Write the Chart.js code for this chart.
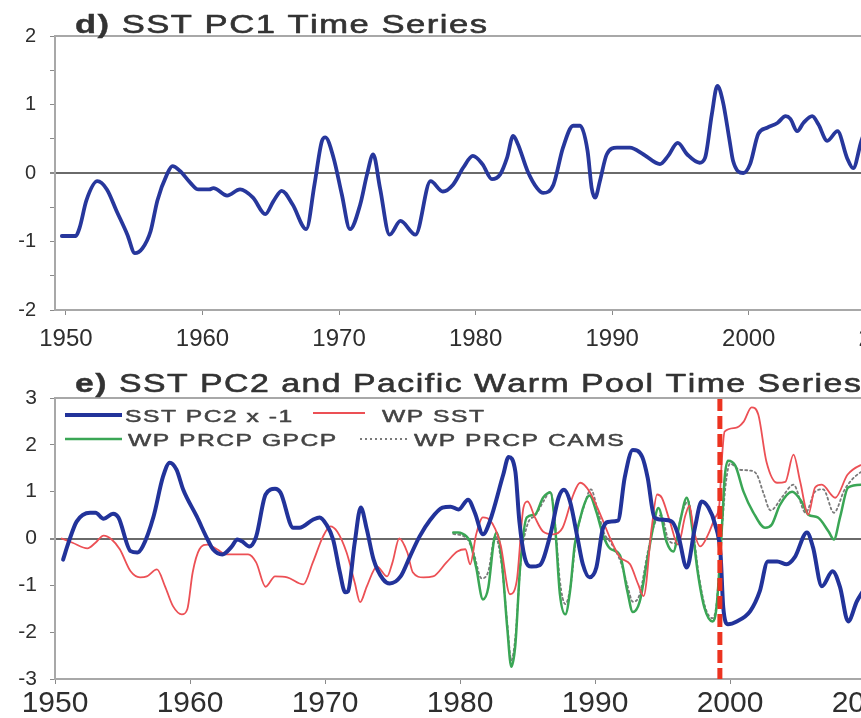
<!DOCTYPE html>
<html>
<head>
<meta charset="utf-8">
<script src="https://cdn.jsdelivr.net/npm/chart.js@4.4.1/dist/chart.umd.min.js"></script>
<style>
  html, body { margin: 0; padding: 0; background: #fff; overflow: hidden; width: 861px; height: 718px; }
  canvas { position: absolute; left: 0; }
  #pc1 { top: 0; }
  #pc2 { top: 360px; }
</style>
</head>
<body>
<canvas id="pc1" width="1000" height="360"></canvas>
<canvas id="pc2" width="1000" height="358"></canvas>
<script>
// ---- data ----
const xTickYears = [1950, 1960, 1970, 1980, 1990, 2000, 2010];
const pc1YTicks = [-2, -1.5, -1, -0.5, 0, 0.5, 1, 1.5, 2];
const pc2YTicks = [-3, -2, -1, 0, 1, 2, 3];
const breakYear = 1999.25;

// d) SST PC1
const pc1Years = [1949.7, 1950.7, 1951.0, 1951.5, 1952.3, 1953.0, 1953.7, 1954.5, 1955.05, 1955.6,
  1956.2, 1956.7, 1957.4, 1957.8, 1958.35, 1959.1, 1959.7, 1960.5, 1960.8, 1961.8,
  1962.75, 1963.7, 1964.6, 1965.2, 1965.8, 1966.6, 1967.6, 1968.2, 1968.75, 1969.0,
  1969.6, 1970.2, 1970.8, 1971.55, 1972.05, 1972.5, 1973.0, 1973.7, 1974.5, 1975.6,
  1976.7, 1977.6, 1978.35, 1979.1, 1979.8, 1980.5, 1981.2, 1981.8, 1982.3, 1982.75,
  1983.1, 1983.8, 1984.5, 1984.95, 1985.7, 1986.4, 1987.15, 1987.65, 1988.2, 1988.5,
  1988.75, 1989.1, 1989.6, 1990.35, 1991.3, 1992.3, 1993.5, 1994.1, 1994.8, 1995.5,
  1996.4, 1996.8, 1997.3, 1997.7, 1998.1, 1998.6, 1998.85, 1999.6, 2000.1, 2000.7,
  2001.35, 2002.1, 2002.7, 2003.05, 2003.55, 2004.0, 2004.65, 2005.1, 2005.75, 2006.5,
  2007.2, 2007.65, 2008.25, 2008.8];
const pc1Values = [-0.92, -0.92, -0.80, -0.40, -0.12, -0.24, -0.55, -0.90, -1.17, -1.10,
  -0.85, -0.40, -0.02, 0.10, 0.03, -0.14, -0.24, -0.24, -0.22, -0.33,
  -0.24, -0.36, -0.60, -0.41, -0.26, -0.46, -0.82, -0.17, 0.47, 0.52,
  0.22, -0.31, -0.82, -0.46, -0.02, 0.27, -0.22, -0.90, -0.70, -0.90,
  -0.12, -0.27, -0.17, 0.08, 0.25, 0.13, -0.09, -0.02, 0.22, 0.54,
  0.42, 0.03, -0.22, -0.29, -0.17, 0.37, 0.69, 0.69, 0.32, -0.22,
  -0.36, -0.12, 0.27, 0.37, 0.37, 0.27, 0.13, 0.25, 0.44, 0.27,
  0.15, 0.22, 0.86, 1.27, 1.05, 0.47, 0.18, 0.00, 0.13, 0.57,
  0.66, 0.73, 0.83, 0.79, 0.61, 0.73, 0.83, 0.71, 0.47, 0.61,
  0.22, 0.07, 0.47, 0.75];

// e) SST PC2 x -1
const pc2Years = [1950.6, 1951.0, 1951.6, 1952.6, 1953.0, 1953.6, 1954.3, 1954.7, 1955.6, 1956.1,
  1956.5, 1957.3, 1958.0, 1958.5, 1959.0, 1959.5, 1960.5, 1961.3, 1961.7, 1962.4,
  1963.1, 1963.5, 1963.85, 1964.4, 1964.9, 1965.6, 1966.3, 1966.7, 1967.65, 1968.1,
  1969.1, 1969.6, 1970.1, 1970.6, 1971.1, 1971.5, 1971.7, 1972.2, 1972.65, 1973.1,
  1973.6, 1974.3, 1974.8, 1975.6, 1976.3, 1977.0, 1977.8, 1978.7, 1979.3, 1979.9,
  1980.6, 1981.1, 1981.7, 1982.2, 1983.2, 1983.6, 1984.1, 1984.4, 1984.8, 1985.3,
  1985.9, 1986.7, 1987.3, 1987.7, 1988.15, 1988.7, 1989.1, 1989.6, 1990.1, 1990.6,
  1991.1, 1991.7, 1992.2, 1992.8, 1993.5, 1993.9, 1994.4, 1995.0, 1995.7, 1996.15,
  1996.8, 1997.4, 1997.9, 1998.4, 1998.9, 1999.3, 1999.5, 1999.85, 2000.5, 2001.5,
  2002.2, 2002.8, 2003.5, 2004.2, 2004.8, 2005.7, 2006.15, 2006.8, 2007.6, 2008.15,
  2008.75, 2009.4, 2009.9];
const pc2Values = [-0.45, -0.09, 0.36, 0.55, 0.55, 0.42, 0.53, 0.45, -0.27, -0.30,
  -0.17, 0.47, 1.32, 1.62, 1.47, 1.04, 0.47, -0.02, -0.23, -0.34,
  -0.17, -0.02, -0.06, -0.17, 0.04, 0.94, 1.06, 0.98, 0.23, 0.23,
  0.40, 0.45, 0.30, -0.02, -0.72, -1.15, -1.13, -0.09, 0.66, 0.19,
  -0.45, -0.87, -0.96, -0.81, -0.38, 0.04, 0.40, 0.66, 0.68, 0.62,
  0.83, 0.55, 0.09, 0.36, 1.36, 1.74, 1.43, 0.36, -0.41, -0.60,
  -0.57, 0.09, 0.87, 1.04, 0.79, 0.02, -0.55, -0.83, -0.62, 0.23,
  0.36, 0.38, 1.30, 1.89, 1.74, 1.30, 0.45, 0.40, 0.36, 0.09,
  -0.62, 0.23, 0.79, 0.66, 0.30, -0.34, -1.47, -1.83, -1.77, -1.55,
  -1.13, -0.49, -0.49, -0.55, -0.40, 0.13, -0.19, -1.02, -0.70, -1.04,
  -1.77, -1.34, -1.10];

// WP SST
const wpSstYears = [1950.5, 1951.3, 1952.4, 1953.0, 1953.6, 1954.2, 1954.8, 1955.6, 1956.3, 1956.8,
  1957.55, 1958.15, 1958.75, 1959.4, 1959.8, 1960.2, 1960.7, 1961.3, 1962.0, 1962.7,
  1963.5, 1964.3, 1964.9, 1965.6, 1966.3, 1967.2, 1968.4, 1969.1, 1969.85, 1970.4,
  1970.9, 1971.6, 1972.2, 1972.6, 1973.1, 1973.85, 1974.6, 1975.0, 1975.5, 1976.1,
  1976.5, 1977.3, 1978.0, 1979.0, 1979.8, 1980.4, 1980.75, 1981.2, 1981.7, 1982.2,
  1983.0, 1983.7, 1984.2, 1984.7, 1985.0, 1985.55, 1986.15, 1986.9, 1987.6, 1988.4,
  1988.9, 1989.6, 1990.4, 1991.1, 1991.85, 1992.6, 1993.2, 1993.6, 1994.2, 1994.6,
  1994.95, 1995.55, 1996.15, 1996.7, 1997.0, 1997.3, 1997.8, 1998.4, 1998.9, 1999.2,
  1999.4, 1999.6, 2000.4, 2001.0, 2001.6, 2002.1, 2002.7, 2003.5, 2004.1, 2004.7,
  2005.2, 2005.8, 2006.3, 2006.8, 2007.8, 2008.7, 2009.7, 2010.2];
const wpSstValues = [0.00, -0.09, -0.21, -0.09, 0.06, -0.02, -0.23, -0.70, -0.83, -0.81,
  -0.66, -1.02, -1.45, -1.62, -1.51, -0.72, -0.23, -0.13, -0.23, -0.34,
  -0.34, -0.34, -0.51, -1.03, -0.81, -0.83, -0.98, -0.51, 0.04, 0.26,
  0.15, -0.30, -0.94, -1.36, -1.02, -0.60, -0.81, -0.51, 0.00, -0.30,
  -0.72, -0.83, -0.81, -0.51, -0.28, -0.23, -0.55, 0.09, 0.45, 0.40,
  -0.13, -1.19, -0.91, 0.66, 0.79, 0.45, 0.15, 0.09, 0.23, 0.94,
  1.19, 1.00, 0.51, 0.02, -0.40, -0.55, -0.98, -1.23, 0.23, 0.94,
  0.87, 0.36, -0.13, 0.50, 0.70, 0.20, -0.17, 0.10, 0.45, 0.70,
  1.70, 2.28, 2.36, 2.49, 2.80, 2.64, 1.64, 1.19, 1.21, 1.79,
  1.21, 0.51, 1.09, 1.15, 0.87, 1.36, 1.57, 1.60];

// WP PRCP GPCP
const gpcpYears = [1979.5, 1979.85, 1980.5, 1980.75, 1981.2, 1981.7, 1982.1, 1982.5, 1982.7, 1983.1,
  1983.5, 1983.8, 1984.1, 1984.45, 1984.95, 1985.55, 1986.15, 1986.7, 1987.05, 1987.4,
  1987.8, 1988.15, 1988.5, 1989.1, 1989.6, 1990.1, 1990.6, 1991.1, 1991.85, 1992.4,
  1992.8, 1993.3, 1993.85, 1994.3, 1994.7, 1995.3, 1995.8, 1996.3, 1996.8, 1997.2,
  1997.6, 1998.1, 1998.7, 1999.0, 1999.4, 1999.6, 1999.85, 2000.4, 2001.0, 2001.7,
  2002.6, 2003.1, 2003.7, 2004.6, 2005.3, 2005.8, 2006.5, 2007.3, 2007.7, 2008.15,
  2008.75, 2009.7, 2010.2];
const gpcpValues = [0.13, 0.13, 0.04, -0.07, -0.62, -1.30, -1.04, -0.07, 0.13, -0.49,
  -1.91, -2.74, -2.27, -0.62, 0.45, 0.51, 0.87, 0.98, 0.23, -1.19,
  -1.62, -1.13, -0.13, 0.64, 0.92, 0.57, 0.07, -0.21, -0.36, -1.13,
  -1.57, -1.36, -0.49, 0.23, 0.65, -0.07, -0.28, 0.36, 0.87, 0.23,
  -0.70, -1.47, -1.77, -1.47, 0.23, 1.28, 1.66, 1.55, 1.00, 0.57,
  0.23, 0.30, 0.72, 1.00, 0.79, 0.51, 0.45, 0.15, -0.02, 0.45,
  1.09, 1.15, 1.10];

// WP PRCP CAMS
const camsYears = [1979.5, 1980.5, 1981.0, 1981.6, 1982.1, 1982.6, 1983.1, 1983.5, 1983.8, 1984.1,
  1984.5, 1985.0, 1985.6, 1986.2, 1986.7, 1987.05, 1987.4, 1987.8, 1988.2, 1988.6,
  1989.2, 1989.7, 1990.2, 1990.7, 1991.2, 1991.9, 1992.4, 1992.8, 1993.3, 1993.9,
  1994.4, 1994.9, 1995.4, 1995.9, 1996.4, 1996.9, 1997.3, 1997.7, 1998.2, 1998.7,
  1999.0, 1999.4, 1999.7, 2000.0, 2000.7, 2001.5, 2002.0, 2002.5, 2003.0, 2003.9,
  2004.7, 2005.6, 2006.3, 2006.9, 2007.7, 2008.5, 2009.6, 2010.2];
const camsValues = [0.10, 0.00, -0.30, -0.85, -0.70, 0.05, -0.60, -1.80, -2.60, -2.10,
  -0.50, 0.30, 0.50, 0.80, 1.00, 0.30, -0.90, -1.40, -1.00, 0.00,
  0.70, 1.05, 0.60, 0.10, -0.10, -0.50, -1.00, -1.35, -1.20, -0.30,
  0.30, 0.50, 0.00, -0.10, 0.50, 0.80, 0.10, -0.80, -1.50, -1.70,
  -1.40, 0.20, 1.20, 1.60, 1.47, 1.45, 1.36, 0.95, 0.60, 0.90,
  1.15, 0.55, 1.00, 1.05, 0.55, 1.05, 1.40, 1.45];

// ---- helpers ----
const FONT = "'Liberation Sans', Arial, sans-serif";
const toPoints = (xs, ys) => xs.map((x, i) => ({ x: x, y: ys[i] }));

// text in the figure is wide, heavy and a little letter-spaced
function drawWide(ctx, text, x, y, font, sx, spacing, color, weight) {
  ctx.save();
  ctx.font = font;
  ctx.fillStyle = color;
  ctx.strokeStyle = color;
  ctx.lineWidth = weight || 0;
  ctx.lineJoin = 'round';
  ctx.textBaseline = 'alphabetic';
  ctx.textAlign = 'left';
  ctx.translate(x, y);
  ctx.scale(sx, 1);
  let cx = 0;
  for (const ch of text) {
    ctx.fillText(ch, cx, 0);
    if (weight) ctx.strokeText(ch, cx, 0);
    cx += ctx.measureText(ch).width + spacing / sx;
  }
  ctx.restore();
  return x + cx * sx;
}

function xAxis(min, max, fontSize, pad, height) {
  return {
    type: 'linear',
    min: min,
    max: max,
    afterBuildTicks: (a) => { a.ticks = xTickYears.map(v => ({ value: v })); },
    ticks: {
      callback: (v) => String(v),
      font: { family: FONT, size: fontSize },
      color: '#2e2e2e',
      padding: pad,
      autoSkip: false,
      maxRotation: 0
    },
    grid: { drawOnChartArea: false, tickLength: 5, tickColor: '#8a8a8a' },
    border: { color: '#a8a8a8', width: 2 },
    afterFit: (a) => { a.height = height; }
  };
}

function yAxis(min, max, tickVals, fontSize, pad) {
  return {
    min: min,
    max: max,
    afterBuildTicks: (a) => { a.ticks = tickVals.map(v => ({ value: v })); },
    ticks: {
      callback: (v) => Number.isInteger(v) ? String(v) : '',
      font: { family: FONT, size: fontSize },
      color: '#2e2e2e',
      padding: pad,
      autoSkip: false
    },
    grid: {
      drawOnChartArea: true,
      color: (c) => (c.tick && c.tick.value === 0) ? '#6a6a6a' : 'rgba(0,0,0,0)',
      lineWidth: (c) => (c.tick && c.tick.value === 0) ? 2 : 1,
      tickColor: '#8a8a8a',
      tickLength: 5
    },
    border: { color: '#a8a8a8', width: 2 },
    afterFit: (a) => { a.width = 55; }
  };
}

// top frame line + panel title
const panelPlugin = {
  id: 'panel',
  afterDraw: (chart, args, opts) => {
    const ctx = chart.ctx;
    const area = chart.chartArea;
    ctx.save();
    ctx.strokeStyle = '#a8a8a8';
    ctx.lineWidth = 2;
    ctx.beginPath();
    ctx.moveTo(area.left, area.top);
    ctx.lineTo(area.right, area.top);
    ctx.stroke();
    ctx.restore();

    const x = drawWide(ctx, opts.prefix + ' ', 75, opts.baseline, 'bold 26px ' + FONT, opts.stretch, 1.5, '#333', 0.4);
    drawWide(ctx, opts.text, x, opts.baseline, '26px ' + FONT, opts.stretch, 1.5, '#333', 0.6);
  }
};

// red dashed line marking the break year
const breakPlugin = {
  id: 'breakLine',
  afterDatasetsDraw: (chart) => {
    const ctx = chart.ctx;
    const area = chart.chartArea;
    const xp = chart.scales.x.getPixelForValue(breakYear);
    ctx.save();
    ctx.strokeStyle = '#ec3320';
    ctx.lineWidth = 5;
    ctx.setLineDash([13, 5]);
    ctx.beginPath();
    ctx.moveTo(xp, area.top);
    ctx.lineTo(xp, area.bottom);
    ctx.stroke();
    ctx.restore();
  }
};

// legend inside the plot, two rows
const legendSlots = [
  { x: 65, y: 55, len: 57, textX: 125, base: 62 },
  { x: 313, y: 53, len: 52, textX: 382, base: 62 },
  { x: 65, y: 79, len: 57, textX: 128, base: 86 },
  { x: 360, y: 79, len: 48, textX: 414, base: 86 }
];
const legendPlugin = {
  id: 'insideLegend',
  afterDraw: (chart) => {
    const ctx = chart.ctx;
    chart.data.datasets.forEach((ds, i) => {
      const s = legendSlots[i];
      ctx.save();
      ctx.strokeStyle = ds.borderColor;
      ctx.lineWidth = ds.borderWidth;
      ctx.setLineDash(ds.borderDash || []);
      ctx.beginPath();
      ctx.moveTo(s.x, s.y);
      ctx.lineTo(s.x + s.len, s.y);
      ctx.stroke();
      ctx.restore();
      drawWide(ctx, ds.label, s.textX, s.base, '17px ' + FONT, 1.45, 1.5, '#444', 0.5);
    });
  }
};

const lineStyle = { pointRadius: 0, cubicInterpolationMode: 'monotone', borderJoinStyle: 'round', borderCapStyle: 'round', fill: false };

// ---- panel d ----
new Chart(document.getElementById('pc1'), {
  type: 'line',
  data: {
    datasets: [Object.assign({
      label: 'SST PC1',
      data: toPoints(pc1Years, pc1Values),
      borderColor: '#27379c',
      borderWidth: 3.8
    }, lineStyle)]
  },
  options: {
    responsive: false,
    animation: false,
    layout: { padding: { top: 36, left: 0, right: 0, bottom: 0 } },
    plugins: {
      legend: { display: false },
      tooltip: { enabled: false },
      panel: { prefix: 'd)', text: 'SST PC1 Time Series', baseline: 33, stretch: 1.33 }
    },
    scales: {
      x: xAxis(1949.2, 2018.4, 24, 10, 50),
      y: yAxis(-2, 2, pc1YTicks, 20, 14)
    }
  },
  plugins: [panelPlugin]
});

// ---- panel e ----
new Chart(document.getElementById('pc2'), {
  type: 'line',
  data: {
    datasets: [
      Object.assign({ label: 'SST PC2 x -1', data: toPoints(pc2Years, pc2Values), borderColor: '#22339a', borderWidth: 4, order: 0 }, lineStyle),
      Object.assign({ label: 'WP SST', data: toPoints(wpSstYears, wpSstValues), borderColor: '#ec5055', borderWidth: 1.8, order: 1 }, lineStyle),
      Object.assign({ label: 'WP PRCP GPCP', data: toPoints(gpcpYears, gpcpValues), borderColor: '#3aa655', borderWidth: 2.5, order: 2 }, lineStyle),
      Object.assign({ label: 'WP PRCP CAMS', data: toPoints(camsYears, camsValues), borderColor: '#7a7a7a', borderWidth: 1.8, borderDash: [2, 3], order: 3 }, lineStyle)
    ]
  },
  options: {
    responsive: false,
    animation: false,
    layout: { padding: { top: 38, left: 0, right: 0, bottom: 0 } },
    plugins: {
      legend: { display: false },
      tooltip: { enabled: false },
      panel: { prefix: 'e)', text: 'SST PC2 and Pacific Warm Pool Time Series', baseline: 32, stretch: 1.3 }
    },
    scales: {
      x: xAxis(1950, 2020, 30, 2, 39),
      y: yAxis(-3, 3, pc2YTicks, 21, 13)
    }
  },
  plugins: [panelPlugin, breakPlugin, legendPlugin]
});
</script>
</body>
</html>
